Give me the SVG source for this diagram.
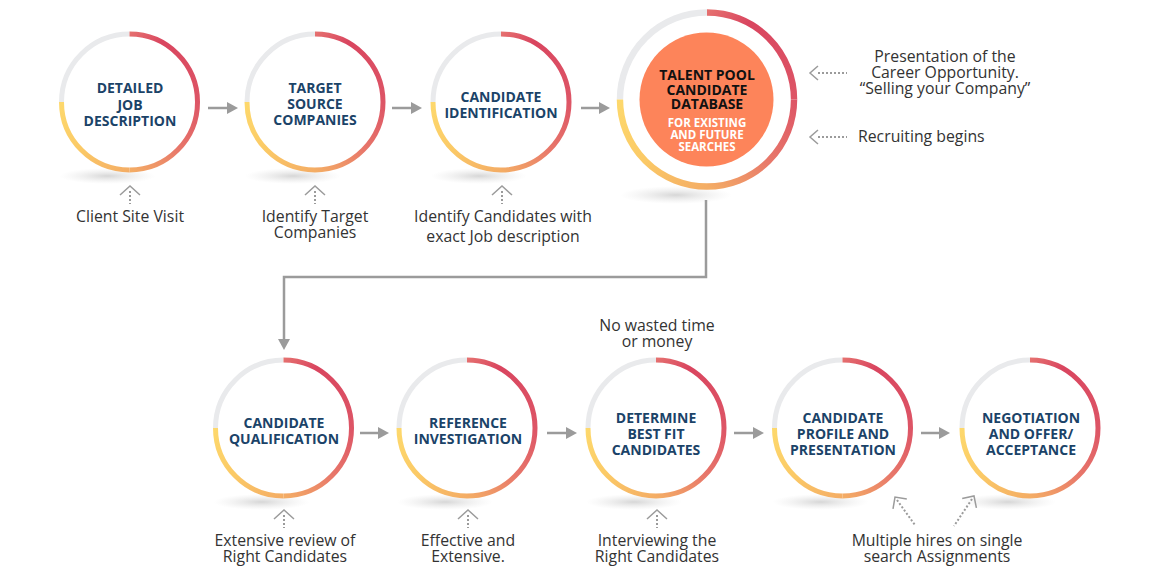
<svg xmlns="http://www.w3.org/2000/svg" xmlns:xlink="http://www.w3.org/1999/xlink" width="1154" height="584" viewBox="0 0 1154 584">
<style>
.lbl{font-family:"Open Sans","Liberation Sans",sans-serif;font-weight:700;font-size:14px;fill:#1b4368;text-anchor:middle}
.txt{font-family:"Open Sans","Liberation Sans",sans-serif;font-size:15.8px;fill:#333;text-anchor:middle}
.txl{font-family:"Open Sans","Liberation Sans",sans-serif;font-size:15.8px;fill:#333}
.ring path{fill:none;stroke-width:5}
.arr{stroke:#9b9b9b;stroke-width:2.5;fill:none}
.dot{stroke:#9b9b9b;stroke-width:2;stroke-dasharray:2 2;fill:none}
.chev{stroke:#9b9b9b;stroke-width:1.5;fill:none}
</style>
<defs>
<linearGradient id="g1" gradientUnits="userSpaceOnUse" x1="0" y1="-68" x2="68" y2="0">
<stop offset="0" stop-color="#e5706f"/><stop offset="0.3" stop-color="#d9455f"/><stop offset="1" stop-color="#dd5566"/>
</linearGradient>
<linearGradient id="g2" gradientUnits="userSpaceOnUse" x1="68" y1="0" x2="0" y2="68">
<stop offset="0" stop-color="#dd5566"/><stop offset="0.5" stop-color="#e8786a"/><stop offset="1" stop-color="#f4ad65"/>
</linearGradient>
<linearGradient id="g3" gradientUnits="userSpaceOnUse" x1="0" y1="68" x2="-68" y2="0">
<stop offset="0" stop-color="#f4ad65"/><stop offset="0.5" stop-color="#fbc966"/><stop offset="1" stop-color="#fdd86c"/>
</linearGradient>
<radialGradient id="sh">
<stop offset="0" stop-color="#cfcfcf" stop-opacity="0.85"/><stop offset="1" stop-color="#e5e5e5" stop-opacity="0"/>
</radialGradient>
<g id="ring" class="ring">
<path d="M -68 0 A 68 68 0 0 1 0 -68" stroke="#e9eaec"/>
<path d="M 0 -68 A 68 68 0 0 1 68 0" stroke="url(#g1)"/>
<path d="M 68 0 A 68 68 0 0 1 0 68" stroke="url(#g2)"/>
<path d="M 0 68 A 68 68 0 0 1 -68 0" stroke="url(#g3)"/>
</g>
<g id="node">
<ellipse cx="-22" cy="74" rx="48" ry="8" fill="url(#sh)"/>
<circle r="68" fill="#fff"/>
<use xlink:href="#ring"/>
</g>
<g id="up">
<path class="chev" d="M -10 9 L 0 0 L 10 9"/>
<path class="dot" d="M 0 5 V 18"/>
</g>
<g id="left">
<path class="chev" d="M 8 -7 L 0 0 L 8 7"/>
<path class="dot" d="M 8 0 H 37"/>
</g>
<marker id="ah" markerUnits="userSpaceOnUse" markerWidth="11" markerHeight="12" refX="0" refY="6" orient="auto" viewBox="0 0 11 12">
<path d="M0,0 L11,6 L0,12 z" fill="#9b9b9b"/>
</marker>
</defs>
<rect width="1154" height="584" fill="#fff"/>

<g id="n1">
<use xlink:href="#node" transform="translate(129.5,102)"/>
<text class="lbl" x="130" y="93">DETAILED</text>
<text class="lbl" x="130" y="109.5">JOB</text>
<text class="lbl" x="130" y="126">DESCRIPTION</text>
</g>
<g id="n2">
<use xlink:href="#node" transform="translate(315,102)"/>
<text class="lbl" x="315" y="93">TARGET</text>
<text class="lbl" x="315" y="109">SOURCE</text>
<text class="lbl" x="315" y="125">COMPANIES</text>
</g>
<g id="n3">
<use xlink:href="#node" transform="translate(501,102)"/>
<text class="lbl" x="501" y="102">CANDIDATE</text>
<text class="lbl" x="501" y="118">IDENTIFICATION</text>
</g>
<g id="n4">
<ellipse cx="676" cy="195" rx="56" ry="9" fill="url(#sh)"/>
<circle cx="707" cy="99.5" r="87" fill="#fff"/>
<use xlink:href="#ring" transform="translate(707,99.5) scale(1.28)"/>
<circle cx="706.5" cy="99.5" r="67" fill="#fd845a"/>
<text class="lbl" x="707" y="80" style="fill:#111">TALENT POOL</text>
<text class="lbl" x="707" y="95" style="fill:#111">CANDIDATE</text>
<text class="lbl" x="707" y="109" style="fill:#111">DATABASE</text>
<text class="lbl" x="707" y="127" style="fill:#fff;font-size:11.5px">FOR EXISTING</text>
<text class="lbl" x="707" y="139" style="fill:#fff;font-size:11.5px">AND FUTURE</text>
<text class="lbl" x="707" y="151" style="fill:#fff;font-size:11.5px">SEARCHES</text>
</g>
<g id="n5">
<use xlink:href="#node" transform="translate(283.5,428)"/>
<text class="lbl" x="284" y="428">CANDIDATE</text>
<text class="lbl" x="284" y="443.5">QUALIFICATION</text>
</g>
<g id="n6">
<use xlink:href="#node" transform="translate(467,428)"/>
<text class="lbl" x="468" y="428">REFERENCE</text>
<text class="lbl" x="468" y="443.5">INVESTIGATION</text>
</g>
<g id="n7">
<use xlink:href="#node" transform="translate(656,428)"/>
<text class="lbl" x="656" y="423">DETERMINE</text>
<text class="lbl" x="656" y="439">BEST FIT</text>
<text class="lbl" x="656" y="455">CANDIDATES</text>
</g>
<g id="n8">
<use xlink:href="#node" transform="translate(842.5,428)"/>
<text class="lbl" x="843" y="423">CANDIDATE</text>
<text class="lbl" x="843" y="439">PROFILE AND</text>
<text class="lbl" x="843" y="455">PRESENTATION</text>
</g>
<g id="n9">
<use xlink:href="#node" transform="translate(1030,428)"/>
<text class="lbl" x="1031" y="423">NEGOTIATION</text>
<text class="lbl" x="1031" y="439">AND OFFER/</text>
<text class="lbl" x="1031" y="455">ACCEPTANCE</text>
</g>

<g id="connectors">
<path class="arr" d="M208 108 H227" marker-end="url(#ah)"/>
<path class="arr" d="M392 108 H411" marker-end="url(#ah)"/>
<path class="arr" d="M581 108 H599" marker-end="url(#ah)"/>
<path class="arr" d="M360 433 H378" marker-end="url(#ah)"/>
<path class="arr" d="M547 433 H566" marker-end="url(#ah)"/>
<path class="arr" d="M734 433 H753" marker-end="url(#ah)"/>
<path class="arr" d="M921 433 H939" marker-end="url(#ah)"/>
<path class="arr" d="M706 200 V277 H284 V339" stroke-width="2" marker-end="url(#ah)"/>
<use xlink:href="#up" transform="translate(130,186)"/>
<use xlink:href="#up" transform="translate(315,186)"/>
<use xlink:href="#up" transform="translate(502,186)"/>
<use xlink:href="#up" transform="translate(284,510)"/>
<use xlink:href="#up" transform="translate(468,510)"/>
<use xlink:href="#up" transform="translate(657,510)"/>
<use xlink:href="#left" transform="translate(810,73)"/>
<use xlink:href="#left" transform="translate(810,137)"/>
<path class="chev" d="M893 508.8 L895 497 L906.8 499"/>
<path class="dot" d="M897 500 L915 525"/>
<path class="chev" d="M962.2 498.4 L974 496 L976.4 507.8"/>
<path class="dot" d="M972 499 L954 526"/>
</g>

<g id="labels">
<text class="txt" x="130" y="222">Client Site Visit</text>
<text class="txt" x="315" y="222">Identify Target</text>
<text class="txt" x="315" y="238">Companies</text>
<text class="txt" x="503" y="222">Identify Candidates with</text>
<text class="txt" x="503" y="242">exact Job description</text>
<text class="txt" x="945" y="62">Presentation of the</text>
<text class="txt" x="945" y="78">Career Opportunity.</text>
<text class="txt" x="945" y="94">“Selling your Company”</text>
<text class="txl" x="858" y="142">Recruiting begins</text>
<text class="txt" x="657" y="331">No wasted time</text>
<text class="txt" x="657" y="347">or money</text>
<text class="txt" x="285" y="546">Extensive review of</text>
<text class="txt" x="285" y="562">Right Candidates</text>
<text class="txt" x="468" y="546">Effective and</text>
<text class="txt" x="468" y="562">Extensive.</text>
<text class="txt" x="657" y="546">Interviewing the</text>
<text class="txt" x="657" y="562">Right Candidates</text>
<text class="txt" x="937" y="546">Multiple hires on single</text>
<text class="txt" x="937" y="562">search Assignments</text>
</g>
</svg>
